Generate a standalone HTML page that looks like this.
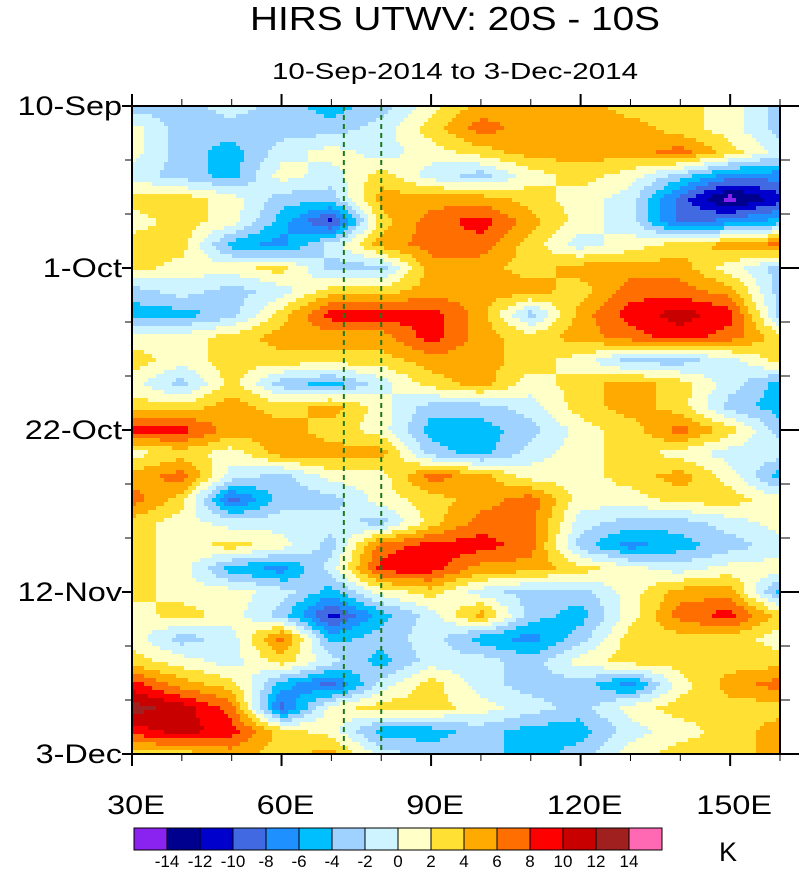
<!DOCTYPE html>
<html><head><meta charset="utf-8"><style>
html,body{margin:0;padding:0;background:#fff;}
svg{display:block;font-family:"Liberation Sans",sans-serif;}
</style></head><body>
<svg id="chart" width="799" height="869" viewBox="0 0 799 869">
<text x="455" y="30" font-size="33" text-anchor="middle" textLength="410" lengthAdjust="spacingAndGlyphs">HIRS UTWV: 20S - 10S</text>
<text x="455" y="79" font-size="23" text-anchor="middle" textLength="366" lengthAdjust="spacingAndGlyphs">10-Sep-2014 to 3-Dec-2014</text>
<g id="field"></g>
<g id="overlay"></g>
<g id="cbar"></g>
<text x="728" y="861" font-size="27" text-anchor="middle">K</text>
</svg>
<script>
const lons = [30,40,50,60,70,80,90,100,110,120,130,140,150,160];
const days = [0,3,6,9,12,15,18,21,24,27,30,33,36,39,42,45,48,51,54,57,60,63,66,69,72,75,78,81,84];
const values = [
[-3,-3,-1,-3,-5,-3,1,5,5,5,3,3,1,-3],
[1,-3,-3,-3,-3,-1,3,7,5,5,5,3,1,-3],
[1,-3,-5,-1,1,-1,1,3,5,5,5,7,3,-1],
[-1,-3,-5,1,-1,3,-1,-3,1,3,1,-3,-7,-7],
[3,3,1,-3,-3,5,5,5,3,1,-1,-9,-15,-11],
[1,3,1,-5,-11,3,7,9,5,1,-1,-9,-7,-5],
[3,3,-5,-7,-1,5,7,7,3,-1,1,3,5,7],
[3,1,1,3,-3,-3,5,5,3,5,5,5,1,-3],
[-3,-1,-3,-1,3,3,5,5,5,3,7,7,5,-3],
[-5,-5,-3,3,9,9,9,5,-3,5,9,11,9,-3],
[1,1,3,5,5,5,9,5,3,5,7,9,7,3],
[3,1,3,3,3,3,5,5,3,1,-3,-3,-1,3],
[1,-3,3,-3,-5,-1,3,5,1,3,5,3,-1,-5],
[3,3,5,3,5,1,-3,-3,-1,3,5,3,-3,-5],
[9,9,5,5,3,1,-5,-5,-3,1,3,7,3,-3],
[1,3,1,5,5,5,-3,-5,-1,1,3,1,-1,-1],
[5,7,-1,-3,1,1,7,5,1,1,3,5,1,-5],
[7,3,-9,-3,-3,1,3,5,7,1,1,3,3,1],
[3,1,-1,-1,-1,-3,3,7,7,-1,-3,-3,-1,1],
[3,1,3,1,-3,7,9,9,7,-3,-7,-5,-3,-1],
[3,1,-5,-7,-1,9,9,5,5,3,1,-1,1,1],
[3,1,1,-1,-5,1,3,-1,-3,-3,1,5,5,-5],
[1,3,1,-3,-11,-5,-1,5,-3,-5,1,7,9,3],
[1,-3,-1,7,-5,-3,-1,-5,-7,-3,3,3,3,1],
[3,1,-1,3,-1,-5,-1,-1,-3,1,3,3,3,3],
[9,5,3,-5,-9,-1,3,-1,-3,-3,-7,1,5,7],
[13,11,7,-9,1,3,3,1,-1,-3,1,3,3,3],
[9,11,9,3,1,-5,-5,-3,-5,-5,-1,1,3,5],
[3,3,5,3,5,-1,-3,-3,-5,-3,1,3,3,5]
];
const levels = [-14,-12,-10,-8,-6,-4,-2,0,2,4,6,8,10,12,14];
const colors = ["#8a22f0","#00008f","#0000cd","#4169e1","#1e90ff","#00bfff","#a0d2ff","#cdf4ff","#ffffc8","#ffe033","#ffaa00","#ff6e00","#ff0000","#c80000","#a02020","#ff69b4"];
const xTickLabels = ["30E","60E","90E","120E","150E"];
const xTickLons = [30,60,90,120,150];
const yTickLabels = ["10-Sep","1-Oct","22-Oct","12-Nov","3-Dec"];
const yTickDays = [0,21,42,63,84];
const refLons = [72.5,80];

const NS="http://www.w3.org/2000/svg";
const X0=132,X1=780,Y0=106,Y1=754;
const LON0=30,LON1=160,D0=0,D1=84;
function xs(l){return X0+(l-LON0)/(LON1-LON0)*(X1-X0);}
function ys(d){return Y0+(d-D0)/(D1-D0)*(Y1-Y0);}
function mk(tag,attrs,parent){const e=document.createElementNS(NS,tag);for(const k in attrs)e.setAttribute(k,attrs[k]);parent.appendChild(e);return e;}
function stretch(e,f){const w=e.getComputedTextLength();e.setAttribute('textLength',(w*f).toFixed(1));e.setAttribute('lengthAdjust','spacingAndGlyphs');}
function band(v){let i=0;while(i<levels.length&&v>=levels[i])i++;return i;}
function interp(lon,day){
  let i=0;while(i<lons.length-2&&lon>lons[i+1])i++;
  let j=0;while(j<days.length-2&&day>days[j+1])j++;
  const tx=Math.max(0,Math.min(1,(lon-lons[i])/(lons[i+1]-lons[i])));
  const ty=Math.max(0,Math.min(1,(day-days[j])/(days[j+1]-days[j])));
  const a=values[j][i],b=values[j][i+1],c=values[j+1][i],d=values[j+1][i+1];
  return a*(1-tx)*(1-ty)+b*tx*(1-ty)+c*(1-tx)*ty+d*tx*ty;
}
const field=document.getElementById('field');
const cell=4;
for(let py=Y0;py<Y1;py+=cell){
  const day=D0+(py+cell/2-Y0)/(Y1-Y0)*(D1-D0);
  let runStart=X0,runBand=-1;
  for(let px=X0;px<=X1;px+=cell){
    let b=-2;
    if(px<X1){const lon=LON0+(px+cell/2-X0)/(X1-X0)*(LON1-LON0);b=band(interp(lon,day));}
    if(b!==runBand){
      if(runBand>=0){
        const r=mk('rect',{x:runStart,y:py,width:px-runStart+0.5,height:cell+0.5,fill:colors[runBand]},field);
        
        
      }
      runStart=px;runBand=b;
    }
  }
}
const ov=document.getElementById('overlay');
refLons.forEach(l=>{
  const ln=mk('line',{x1:xs(l),x2:xs(l),y1:Y0,y2:Y1,stroke:"#1a7a1a","stroke-width":2,"stroke-dasharray":"5,4"},ov);
  
  
});
const frame=mk('rect',{x:X0,y:Y0,width:X1-X0,height:Y1-Y0,fill:"none",stroke:"#000","stroke-width":2},ov);


for(let l=30;l<=160;l+=10){
  const major=(l%30===0);const len=major?12:7;
  mk('line',{x1:xs(l),x2:xs(l),y1:Y0,y2:Y0-len,stroke:"#000","stroke-width":major?2:1},ov);
  mk('line',{x1:xs(l),x2:xs(l),y1:Y1,y2:Y1+len,stroke:"#000","stroke-width":major?2:1},ov);
}
for(let d=0;d<=84;d+=7){
  const major=(d%21===0);const len=major?10:7;
  mk('line',{x1:X0,x2:X0-len,y1:ys(d),y2:ys(d),stroke:"#000","stroke-width":major?2:1},ov);
  mk('line',{x1:X1,x2:X1+(major?20:10),y1:ys(d),y2:ys(d),stroke:"#000","stroke-width":major?2:1},ov);
}
xTickLabels.forEach((t,i)=>{
  const e=mk('text',{x:xs(xTickLons[i])+4,y:814,"font-size":27,"text-anchor":"middle"},ov);
  e.textContent=t;
  
  
  stretch(e,1.2);
});
yTickLabels.forEach((t,i)=>{
  const e=mk('text',{x:122,y:ys(yTickDays[i])+9,"font-size":27,"text-anchor":"end"},ov);
  e.textContent=t;
  
  
  stretch(e,1.2);
});
const cb=document.getElementById('cbar');
const CB0=134,CBW=33,CBY=828,CBH=22;
colors.forEach((c,i)=>{
  const r=mk('rect',{x:CB0+i*CBW,y:CBY,width:CBW,height:CBH,fill:c,stroke:"#000","stroke-width":1},cb);
  
  
});
levels.forEach((lv,i)=>{
  const e=mk('text',{x:CB0+(i+1)*CBW,y:867,"font-size":17,"text-anchor":"middle"},cb);
  e.textContent=lv;
  
  
});
</script>
</body></html>
